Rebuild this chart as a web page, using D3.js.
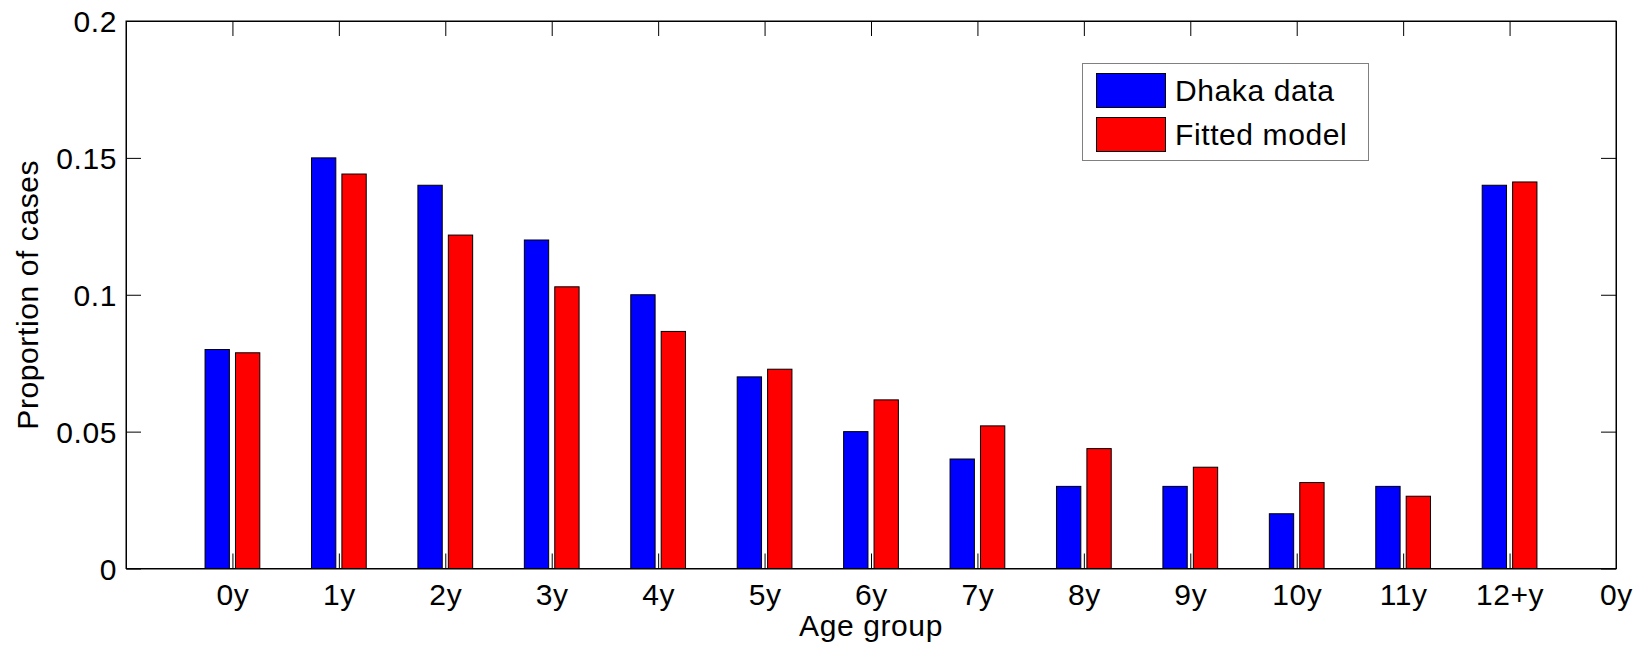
<!DOCTYPE html>
<html>
<head>
<meta charset="utf-8">
<script src="https://cdn.jsdelivr.net/npm/d3@7"></script>
<style>
  html, body { margin: 0; padding: 0; background: #fff; }
  svg text { font-family: "Liberation Sans", Arial, Helvetica, sans-serif; fill: #000; }
</style>
</head>
<body>
<svg id="chart" width="1642" height="647"></svg>
<script>
// ---- data ----
const tickLabels = ["0y","1y","2y","3y","4y","5y","6y","7y","8y","9y","10y","11y","12+y","0y"];
const categories = ["0y","1y","2y","3y","4y","5y","6y","7y","8y","9y","10y","11y","12+y"];
const dhakaData  = [0.08, 0.15, 0.14, 0.12, 0.10, 0.07, 0.05, 0.04, 0.03, 0.03, 0.02, 0.03, 0.14];
const fittedModel = [0.0788, 0.1441, 0.1218, 0.1029, 0.0866, 0.0728, 0.0616, 0.0521, 0.0438, 0.0370, 0.0314, 0.0264, 0.1412];
const yTicks = [0, 0.05, 0.1, 0.15, 0.2];
const yTickLabels = ["0", "0.05", "0.1", "0.15", "0.2"];
const seriesNames = ["Dhaka data", "Fitted model"];
const seriesColors = ["#0000ff", "#ff0000"];

// ---- layout ----
const L = 126, R = 1616, T = 21, B = 568.5;
const svg = d3.select("#chart");
const x = d3.scaleLinear().domain([0, tickLabels.length]).range([L, R]);
const y = d3.scaleLinear().domain([0, 0.2]).range([B, T]);
const FS = 30, LS = "0.6px";
const tickLen = 15;

// grouped-bar geometry (data units)
const barW = 0.2286, off = 0.1429;
const series = [dhakaData, fittedModel];

// bars
series.forEach((vals, s) => {
  svg.append("g").selectAll("rect").data(vals).join("rect")
    .attr("x", (d, i) => x(i + 1 + (s === 0 ? -off : off) - barW / 2))
    .attr("width", x(barW) - x(0))
    .attr("y", d => y(d))
    .attr("height", d => y(0) - y(d))
    .attr("fill", seriesColors[s])
    .attr("stroke", "#000")
    .attr("stroke-width", 1);
});

// axes with inward ticks
const tickVals = tickLabels.map((d, i) => i + 1);
const xAxisB = d3.axisBottom(x).tickValues(tickVals).tickSize(-tickLen).tickSizeOuter(0)
  .tickFormat((d, i) => tickLabels[i]).tickPadding(0);
const gB = svg.append("g").attr("transform", `translate(0,${B})`).call(xAxisB);
gB.selectAll("text").attr("font-size", FS).attr("letter-spacing", LS)
  .attr("y", 0).attr("dy", null).attr("transform", "translate(0,36)");

const xAxisT = d3.axisTop(x).tickValues(tickVals).tickSize(-tickLen).tickSizeOuter(0).tickFormat("");
svg.append("g").attr("transform", `translate(0,${T})`).call(xAxisT);

const yAxisL = d3.axisLeft(y).tickValues(yTicks).tickSize(-tickLen).tickSizeOuter(0)
  .tickFormat((d, i) => yTickLabels[i]).tickPadding(9);
const gL = svg.append("g").attr("transform", `translate(${L},0)`).call(yAxisL);
gL.selectAll("text").attr("font-size", FS).attr("letter-spacing", LS).attr("dy", "0.36em");

const yAxisR = d3.axisRight(y).tickValues(yTicks).tickSize(-tickLen).tickSizeOuter(0).tickFormat("");
svg.append("g").attr("transform", `translate(${R},0)`).call(yAxisR);

svg.selectAll(".domain").attr("stroke", "#000");
svg.selectAll(".tick line").attr("stroke", "#000");

// box
svg.append("rect").attr("x", L).attr("y", T).attr("width", R - L).attr("height", B - T)
  .attr("fill", "none").attr("stroke", "#000").attr("stroke-width", 1);

// axis titles
svg.append("text").attr("x", (L + R) / 2).attr("y", 636).attr("text-anchor", "middle")
  .attr("font-size", FS).attr("letter-spacing", LS).text("Age group");
svg.append("text").attr("transform", `translate(38,${(T + B) / 2}) rotate(-90)`)
  .attr("text-anchor", "middle").attr("font-size", FS).attr("letter-spacing", LS)
  .text("Proportion of cases");

// legend
const lg = svg.append("g");
lg.append("rect").attr("x", 1082.5).attr("y", 63.5).attr("width", 286).attr("height", 97)
  .attr("fill", "#fff").attr("stroke", "#808080").attr("stroke-width", 1);
const swY = [73.5, 117.5];
seriesNames.forEach((name, s) => {
  lg.append("rect").attr("x", 1096.5).attr("y", swY[s]).attr("width", 69).attr("height", 34)
    .attr("fill", seriesColors[s]).attr("stroke", "#000").attr("stroke-width", 1);
  lg.append("text").attr("x", 1175).attr("y", swY[s] + 27).attr("font-size", FS)
    .attr("letter-spacing", LS).text(name);
});
</script>
</body>
</html>
